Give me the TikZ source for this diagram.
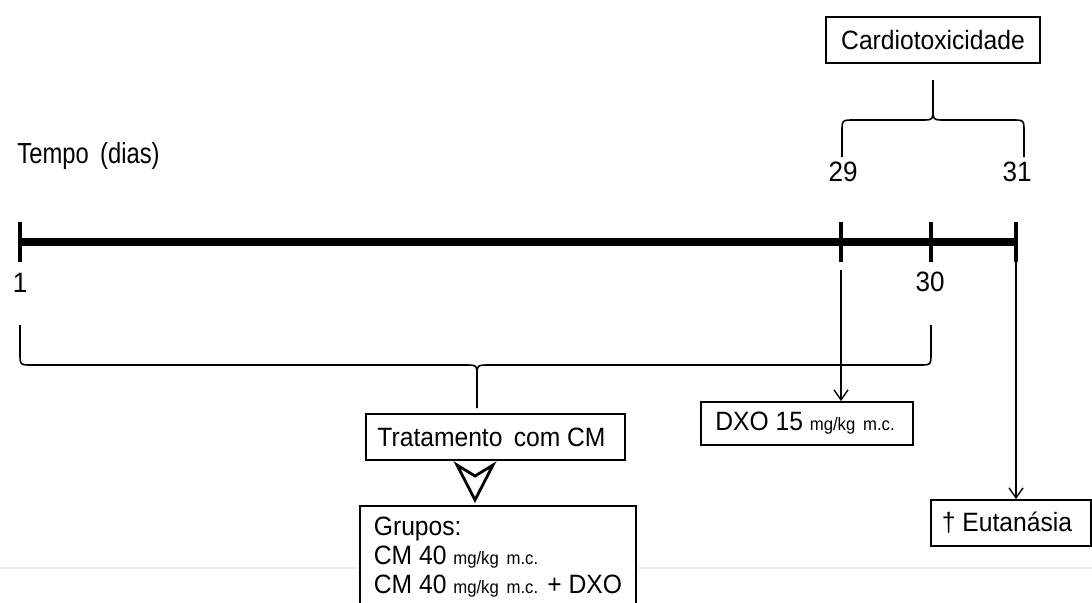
\documentclass[tikz,border=0pt]{standalone}
\usepackage{fontspec}
\setmainfont[FakeStretch=0.93]{Liberation Sans}
\newfontfamily\tempof[FakeStretch=0.82]{Liberation Sans}
\usetikzlibrary{arrows.meta}
\newcommand{\sm}[1]{{\fontsize{9}{11}\selectfont #1}}
\tikzset{
  boxnode/.style={draw, line width=0.9pt, fill=white, inner sep=0pt, font=\fontsize{13.25}{14.6}\selectfont},
  lbl/.style={inner sep=0pt, font=\tempof\fontsize{14.5}{16}\selectfont},
  num/.style={inner sep=0pt, font=\fontsize{14}{15}\selectfont},
  thin/.style={line width=0.7pt},
  brace/.style={line width=0.8pt},
  tick/.style={line width=2pt},
  arr/.style={thin, -{Straight Barb[length=5pt,width=7pt]}}
}
\begin{document}
\begin{tikzpicture}[x=0.5pt,y=-0.5pt]
\clip (0,0) rectangle (1092,602);
\fill[white] (0,0) rectangle (1092,602);
\draw[black!8, line width=0.6pt] (0,568) -- (1092,568);
% timeline
\coordinate (t1) at (20,242);
\coordinate (t29) at (841,242);
\coordinate (t30) at (931,242);
\coordinate (t31) at (1016,242);
\draw[line width=4pt] (t1) -- (t31);
\foreach \p in {t1,t29,t30,t31}
  \draw[tick] ([yshift=10pt]\p) -- ([yshift=-10pt]\p);
% labels
\node[lbl, anchor=west] (tempo) at (17,156) {Tempo\, (dias)};
\node[num] (n1) at (20,283) {1};
\node[num] (n29) at (843,172) {29};
\node[num] (n31) at (1017,172) {31};
\node[num] (n30) at (930,282) {30};
% boxes
\node[boxnode, minimum width=107pt, minimum height=23pt] (cardio) at (933,40) {Cardiotoxicidade};
\node[boxnode, minimum width=129.5pt, minimum height=23pt] (trat) at (495.5,437) {\hspace{-4pt}Tratamento\, com CM};
\node[boxnode, minimum width=106pt, minimum height=21.5pt] (dxo) at (807,423.5) {\hspace{-2pt}DXO 15 \sm{mg/kg\, m.c.}};
\node[boxnode, minimum width=80pt, minimum height=23pt] (eut) at (1011,523) {\hspace{-4pt}\textdagger{} Eutanásia};
\node[boxnode, anchor=north west, align=left, inner xsep=7pt, inner ysep=5.5pt, minimum width=136.5pt, text depth=40pt] (grupos) at (359,505)
  {Grupos:\\ CM 40 \sm{mg/kg\, m.c.}\\ CM 40 \sm{mg/kg\, m.c.} + DXO};
% top brace
\coordinate (cb) at (933,80);
\draw[brace] (842,157) -- (842,132) .. controls (842,120) .. (854,120) -- (921,120) .. controls (933,120) .. (933,108) -- (cb);
\draw[brace] (1024,157) -- (1024,132) .. controls (1024,120) .. (1012,120) -- (945,120) .. controls (933,120) .. (933,108);
% bottom brace
\coordinate (bb) at (477,408);
\draw[brace] (20,325) -- (20,353) .. controls (20,365) .. (32,365) -- (465,365) .. controls (477,365) .. (477,377) -- (bb);
\draw[brace] (931,325) -- (931,353) .. controls (931,365) .. (919,365) -- (489,365) .. controls (477,365) .. (477,377);
% open arrowhead between treatment and groups
\coordinate (tri) at (475,500);
\draw[line width=1.4pt, line join=miter] (457,465) -- (475,476) -- (493,465) -- (tri) -- cycle;
% arrows
\coordinate (a29) at (841,270);
\coordinate (a31) at (1016,262);
\draw[arr] (a29) -- (a29 |- dxo.north);
\draw[arr] (a31) -- (a31 |- eut.north);
\end{tikzpicture}
\end{document}
